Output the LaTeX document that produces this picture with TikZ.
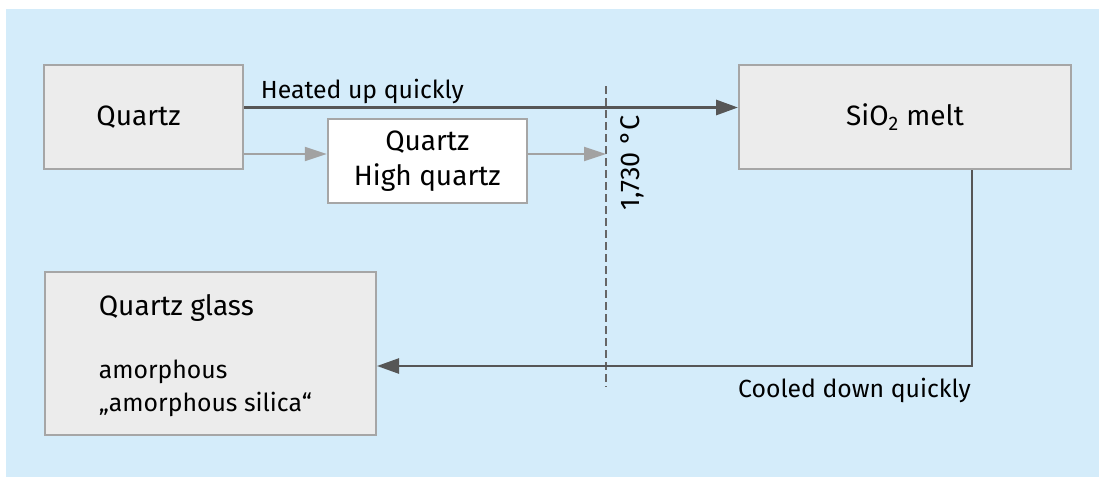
\documentclass[tikz,border=0pt]{standalone}
\usepackage{fontspec}
\setmainfont{Fira Sans}
\usetikzlibrary{arrows.meta}
\definecolor{bgblue}{HTML}{D4ECFA}
\definecolor{boxfill}{HTML}{ECECEC}
\definecolor{boxedge}{HTML}{A6A6A6}
\definecolor{darkline}{HTML}{565656}
\definecolor{lightline}{HTML}{A2A2A2}
\definecolor{dashline}{HTML}{666666}
\tikzset{
  graybox/.style={draw=boxedge, fill=boxfill, line width=2pt, inner sep=0pt,
    font=\fontsize{28}{35}\selectfont, align=center},
  whitebox/.style={graybox, fill=white},
  boxtext/.style={inner sep=0pt, anchor=base west},
  edgetext/.style={inner sep=0pt, font=\fontsize{24.8}{30}\selectfont},
  heatarrow/.style={draw=darkline, line width=3pt,
    -{Triangle[length=22pt,width=15pt]}},
  stagearrow/.style={draw=lightline, line width=2pt,
    -{Triangle[length=22pt,width=14pt]}},
  coolarrow/.style={draw=darkline, line width=2.5pt,
    -{Triangle[length=22pt,width=15pt]}},
  meltline/.style={draw=dashline, line width=2pt, dash pattern=on 7.5pt off 4.5pt}
}
\begin{document}
\begin{tikzpicture}[x=1pt, y=-1pt]
  \useasboundingbox (0,0) rectangle (1099,477);
  \fill[bgblue] (6,9) rectangle (1099,477);

  % process stages
  \node[graybox, minimum width=199pt, minimum height=104pt] (quartz) at (143.5,117) {};
  \node[inner sep=0pt, font=\fontsize{28}{35}\selectfont] (quartzlbl) at (138.5,117) {Quartz};
  \node[whitebox, minimum width=199pt, minimum height=84pt] (hq) at (427.3,161.3)
    {Quartz\\High quartz};
  \node[graybox, minimum width=332pt, minimum height=104pt] (melt) at (905,117)
    {SiO\textsubscript{2} melt};
  \node[graybox, minimum width=331pt, minimum height=163pt] (glass) at (210.5,353) {};
  \node[boxtext, font=\fontsize{28}{35}\selectfont] (glassA) at (98.7,315) {Quartz glass};
  \node[boxtext, font=\fontsize{24.8}{30}\selectfont] (glassB) at (98.7,378) {amorphous};
  \node[boxtext, font=\fontsize{24.8}{30}\selectfont] (glassC) at (98.7,411) {„amorphous silica“};

  % melting temperature
  \coordinate (dtop) at (606,86);
  \coordinate (dbot) at (606,387);
  \draw[meltline] (dtop) -- (dbot);
  \node[inner sep=0pt, font=\fontsize{27}{32}\selectfont, rotate=90] (temp) at (632,163) {1,730 °C};

  % direct heating
  \draw[heatarrow] ([yshift=9.5pt]quartz.east) -- ([yshift=9.5pt]melt.west);
  \node[edgetext, anchor=base west] (heatlbl) at (260.7,98.3) {Heated up quickly};

  % slow route through high quartz
  \coordinate (gA) at ([yshift=-37pt]quartz.east);
  \draw[stagearrow] (gA) -- (gA -| hq.west);
  \draw[stagearrow] (gA -| hq.east) -- (gA -| dtop);

  % quenching
  \draw[coolarrow] ([xshift=67pt]melt.south) |- ([yshift=-13pt]glass.east);
  \node[edgetext, anchor=base east] (coollbl) at (971,397) {Cooled down quickly};
\end{tikzpicture}
\end{document}
